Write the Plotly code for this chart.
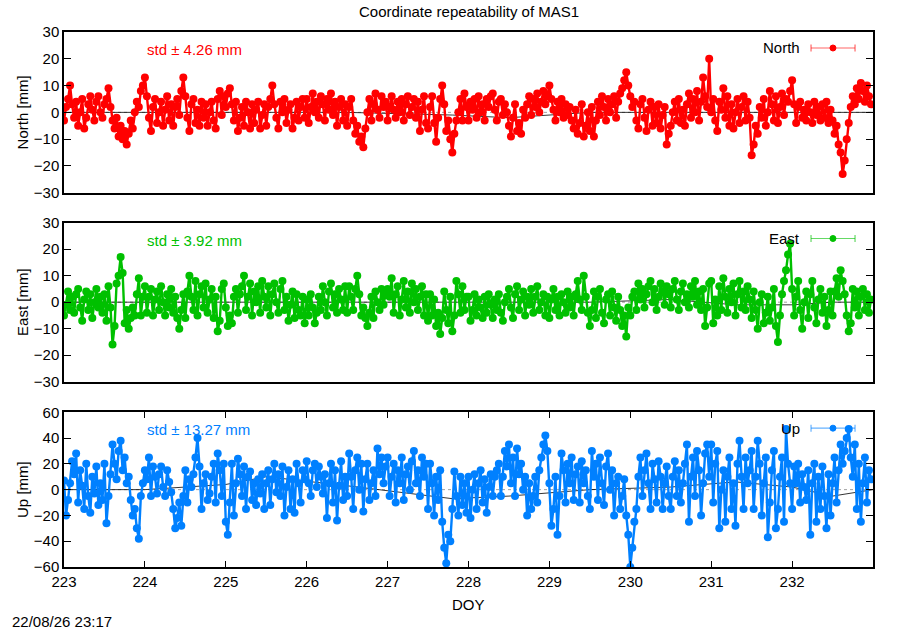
"""Coordinate repeatability of MAS1 - North / East / Up residuals against DOY.

Three stacked gnuplot-looking panels, one per component.
"""
from plotly.graph_objs import Scatter, Figure

NORTH_COLOUR = 'rgb(255, 0, 0)'
EAST_COLOUR = 'rgb(0, 192, 0)'
UP_COLOUR = 'rgb(0, 128, 255)'
REF_COLOUR = 'rgb(0, 0, 0)'
ZERO_COLOUR = 'rgb(160, 160, 160)'
FONT = 'Liberation Sans, Arial, sans-serif'

# epochs of the solutions (every 0.025 day)
DOY = [round(223 + 0.025 * i, 3) for i in range(400)]

# one row = half a day (20 epochs)
NORTH = [
    -3, 2, 5, 10, 3, -2, 4, -5, 0, 5, -6, -2, 3, 6, 1, -3, 4, 6, 0, -2,
    3, 5, 9, 2, -3, -6, -2, -9, -5, -10, -7, -12, -8, -3, -6, 0, 4, 2, 8, 10,
    13, 6, -2, -7, 2, 5, -4, 0, 4, -5, 1, 6, -3, 3, -5, 2, 5, -1, 8, 13,
    6, -2, -7, 3, 5, -4, 1, -5, 4, -2, 3, -5, 0, 4, -3, -6, 5, 8, -1, 6,
    2, 7, 9, 3, -3, 4, -7, -2, 2, -5, 4, 0, -6, 3, -4, 1, 4, -6, -1, 3,
    -5, 2, 5, 10, 3, -2, -6, 4, 0, 5, -4, 1, 3, -6, -2, 4, -3, 2, 5, -2,
    5, -4, 2, 7, 0, 4, -2, 6, 3, -3, 5, 1, 7, -1, 4, -5, 2, 5, -3, 3,
    -5, 2, 5, -3, -8, -5, -11, -9, -13, -6, 0, 5, -3, 3, 7, 1, -2, 6, 2, 4,
    -3, 2, 6, 1, -2, 4, 0, 5, -3, 3, 6, -1, 2, 5, -2, 4, -7, 1, 6, -4,
    -6, 2, 6, -4, -11, -2, 5, 10, 3, -7, -3, -10, -15, -8, -3, 0, 5, -3, 7, 2,
    -3, 4, 1, 5, -2, 6, 0, 3, -3, 5, 2, 6, 7, 1, -3, 4, 5, -1, 3, 0,
    -5, -9, -2, 3, -7, -4, -8, 1, -2, 3, 6, -1, 5, 2, 7, 0, 4, 8, 3, 6,
    10, 5, 1, -3, 4, 0, 5, -2, 3, -1, 2, -3, -6, 1, -8, -4, 3, -9, -5, 0,
    -7, 2, -9, -3, 4, -1, 6, 2, -3, 5, 0, 3, 6, -2, 4, 7, 9, 12, 15, 10,
    6, 2, 4, -3, -6, 3, 5, -2, -7, 1, 4, -5, 2, -4, 3, -6, -1, 2, -12, -8,
    -5, 0, 4, -3, 5, -4, 1, -5, 3, 7, -2, 5, 0, 8, -3, 4, 13, 6, 2, 20,
    0, 5, -3, -7, 4, 1, 9, -2, 6, -5, 3, -6, 0, 5, -4, 2, 6, -3, 4, -2,
    -16, -12, -5, -8, 2, -2, 5, -5, 0, 8, 3, -3, 6, -4, 2, 7, -1, 5, 4, 8,
    12, 3, -4, 2, 4, -2, 1, -3, 3, 0, -4, 4, -1, 2, -3, 3, -2, 4, -4, 1,
    -3, -8, -5, -12, -15, -23, -18, -10, -4, 2, 6, 3, 9, 5, 11, 8, 4, 10, 6, 3,
]

EAST = [
    -5, -1, 4, -3, 2, -4, 3, 5, -2, -7, 1, 4, -3, 3, -6, 0, 5, -2, 2, -4,
    3, -7, 6, -2, -16, -9, 7, 10, 17, 11, -8, -3, -10, -6, -2, -5, 3, 9, -5, 2,
    6, -4, 2, 5, -5, 1, 4, -3, 6, 0, -5, 3, -2, 5, -4, 2, -6, -10, -3, 3,
    -6, 4, 10, 2, -3, 8, -5, 3, 6, -2, 7, -4, 1, 5, -6, 2, -11, -7, 5, 7,
    -2, -9, -5, -8, 2, 5, -4, 3, 6, 10, -3, 2, 7, -5, 4, 0, 6, -4, 8, 2,
    -2, 6, -5, 3, 7, 0, -4, 5, 8, -3, 2, -7, -1, 4, -6, 3, -3, -5, 2, -8,
    1, -5, 3, -2, -8, -4, 2, -3, 6, 0, -5, 4, 7, -2, 3, -4, 5, 1, -3, 6,
    -4, 6, 2, -3, 5, 10, 3, -5, -2, -6, -9, -4, 2, -6, 4, 0, -3, 5, -1, 3,
    5, 2, 9, -4, 3, 6, -5, 1, 8, -2, 4, -4, 7, 0, 5, -3, 2, 6, -5, 3,
    -7, 3, -5, 1, -9, -4, -12, -6, 4, -3, -8, 2, -11, -5, 8, 3, -4, 6, -3, 2,
    2, -7, -3, 3, -5, 1, -2, -6, 2, -4, 3, -1, -6, 1, -3, 3, -4, -7, 0, 2,
    5, -2, -6, 3, 6, -3, 1, 4, -5, 2, -1, 5, -4, 2, 6, -3, 0, 3, -5, 2,
    -6, 1, 5, -3, 2, -5, 3, 0, -4, 4, -2, 2, -5, 3, 8, 1, -3, 10, 2, -4,
    -9, -3, 4, -6, 2, 5, -4, -8, 1, 3, -5, 4, -2, -7, 2, -3, -9, -5, -13, -2,
    -5, 2, 4, -3, 7, 1, 5, -2, 3, 6, 8, 0, 5, -3, 2, 7, 4, -1, 6, 3,
    -2, 5, 8, 1, -3, 4, 7, 0, 3, -2, 6, 2, 8, -1, 4, -3, 5, -9, -2, 7,
    8, -8, 1, -5, 6, -3, 9, 2, -4, 5, 0, 7, -5, 3, 8, -2, 4, -3, 6, 1,
    -6, 4, -3, -10, 0, 3, -8, -4, 2, -7, -2, 5, -9, -15, -5, 3, 8, 12, 18, 22,
    5, -5, 2, 8, -3, -10, 0, 4, -6, 3, 8, -2, -8, 1, 5, -4, 2, -9, -3, 4,
    -5, 4, 9, 2, 12, 8, 3, -5, -11, -8, 5, -2, 4, -5, 2, 5, -3, 3, -4, 1,
]

UP = [
    7, -20, -8, 5, 22, 12, 28, -10, 15, 3, -15, 20, -5, -18, 10, -3, 18, -12, 5, -8,
    20, -26, -5, 12, 35, 20, 8, 30, 38, 15, 25, 5, 10, -8, -20, -15, -30, -38, -5, 5,
    15, 8, 25, -5, 18, 10, -3, 12, 18, 2, -5, 15, 6, -2, -15, -30, -22, -10, -28, -5,
    15, -10, 8, 2, 12, 25, 40, 18, -15, 5, 12, -8, -3, 10, 20, -10, 28, 15, -5, 20,
    -25, -35, -10, 20, -20, 5, 24, 12, -5, 18, -15, 10, 14, -8, 5, -12, 8, -3, 12, -15,
    5, 15, -12, 8, 20, -2, 12, -5, 18, -20, 2, 15, -15, 8, -18, 20, 5, -10, 15, 8,
    22, 5, -5, 15, 20, 2, 18, 10, -3, 12, -22, 5, 20, -10, 15, -24, 3, 22, -8, 10,
    -5, 28, 10, -15, 15, 25, 0, 20, -17, 8, 20, -8, 5, 15, -5, 32, 12, 25, 5, 18,
    25, -5, 10, 20, -10, 15, 5, 25, -8, 12, 18, 0, 22, 30, 5, 15, -5, 25, 10, 20,
    -15, 20, 5, -20, 10, -8, 15, -25, -45, -57, -35, -40, -15, 14, -5, -20, 10, -12, 5, -18,
    10, -22, 0, 12, -15, 5, 15, -10, 8, -18, 2, 12, -5, 10, 15, 20, -5, 10, 30, 18,
    35, 5, 25, -5, 32, 12, 20, 0, 10, -20, 5, -15, -5, 10, -10, 15, 25, 35, 42, 30,
    5, -28, -15, 10, -35, -5, 28, 15, -10, 20, 5, 25, -8, 12, 18, -10, 22, 5, 15, -5,
    -15, 30, 10, 20, -8, 25, 5, -12, 18, 28, 0, 15, -20, 5, 10, -15, -5, 8, -20, -35,
    -60, -45, -25, -15, 10, 25, -5, 15, 28, 5, -15, 20, 8, -10, 22, 10, -15, 5, 18, -5,
    -15, 10, 22, -5, 15, -10, 5, 20, 35, -25, 10, 25, -5, 30, 15, -20, 5, 28, 35, 10,
    35, -10, 20, 30, -30, 0, 15, -25, 10, 25, -15, 5, -28, 20, 38, 10, -15, 25, 5, 15,
    30, -15, 10, 38, 20, -20, 5, 25, -37, -10, 15, 30, -30, -15, 10, 25, -25, 47, 20, 5,
    -15, 18, 5, 20, -10, 12, 2, -8, 15, -35, 5, 20, -25, 10, -15, 18, -5, -30, 12, -20,
    5, 25, -10, 15, 35, 20, 30, 40, 47, 25, 10, 35, -15, 20, -25, 5, 25, -10, 15, 8,
]

# reference (daily) curve drawn thin in black behind the residuals
REF_DOY = [223.0, 224.0, 225.0, 225.5, 226.5, 227.8, 228.5, 229.5, 230.5, 231.3, 232.0, 232.5, 233.0]
REF_NORTH = [0, 0, 0, 0, 0, -1, -2, 0, 0, 0, 0, 0, 0]
REF_EAST = [0, 0, 0, 0, 0, 0, 0, 0, 1, -1, -1, 0, 0]
REF_UP = [0, 0, 4, 10, 3, -7, -5, 0, 2, 6, 2, -5, 0]

STD_TEXT = ['std \u00b1 4.26 mm', 'std \u00b1 3.92 mm', 'std \u00b1 13.27 mm']
NAMES = ['North', 'East', 'Up']
YLABELS = ['North [mm]', 'East [mm]', 'Up [mm]']
YRANGES = [(-30, 30), (-30, 30), (-60, 60)]
YDTICK = [10, 10, 20]
COLOURS = [NORTH_COLOUR, EAST_COLOUR, UP_COLOUR]

# panel domains (paper) and y of the key / std label rows
DOMAINS = [(0.6996, 1.0), (0.3464, 0.6436), (0.0, 0.2892)]
KEY_Y = [0.9701, 0.6140, 0.2595]

fig = Figure()

series = [NORTH, EAST, UP]
refs = [REF_NORTH, REF_EAST, REF_UP]
for i in range(3):
    xa = 'x' if i == 0 else f'x{i + 1}'
    ya = 'y' if i == 0 else f'y{i + 1}'
    fig.add_trace(Scatter(x=REF_DOY, y=refs[i], mode='lines', xaxis=xa, yaxis=ya,
                          line={'color': REF_COLOUR, 'width': 0.8}, hoverinfo='skip',
                          showlegend=False))
    # thick joins so the dense epochs read as one band, as in the original
    fig.add_trace(Scatter(x=DOY, y=series[i], mode='lines+markers', name=NAMES[i],
                          xaxis=xa, yaxis=ya, showlegend=False,
                          line={'color': COLOURS[i], 'width': 2.4},
                          marker={'color': COLOURS[i], 'size': 8, 'symbol': 'circle'}))

axis_common = {'range': [223, 233], 'showline': True, 'linecolor': 'black', 'linewidth': 1.5,
               'mirror': True, 'showgrid': False, 'zeroline': False}
layout = {}
for i in range(3):
    xkey = 'xaxis' if i == 0 else f'xaxis{i + 1}'
    ykey = 'yaxis' if i == 0 else f'yaxis{i + 1}'
    ya = 'y' if i == 0 else f'y{i + 1}'
    xa = 'x' if i == 0 else f'x{i + 1}'
    xaxis = dict(axis_common, anchor=ya)
    if i < 2:
        xaxis.update(showticklabels=False, ticks='')
    else:
        xaxis.update(ticks='inside', ticklen=6, tickcolor='black', mirror='ticks',
                     tickmode='array', tickvals=list(range(223, 233)),
                     tickfont={'size': 15, 'color': 'black', 'family': FONT})
    layout[xkey] = xaxis
    lo, hi = YRANGES[i]
    layout[ykey] = {'domain': list(DOMAINS[i]), 'anchor': xa, 'range': [lo, hi],
                    'dtick': YDTICK[i], 'tick0': lo, 'ticks': 'inside', 'ticklen': 7,
                    'tickcolor': 'black', 'showline': True, 'linecolor': 'black',
                    'linewidth': 1.5, 'mirror': 'ticks', 'showgrid': False, 'zeroline': False,
                    'tickfont': {'size': 15, 'color': 'black', 'family': FONT},
                    'title': {'text': YLABELS[i], 'standoff': 2,
                              'font': {'size': 15, 'color': 'black', 'family': FONT}}}

fig.update_layout(**layout)

shapes = []
annotations = []
for i in range(3):
    xa = 'x' if i == 0 else f'x{i + 1}'
    ya = 'y' if i == 0 else f'y{i + 1}'
    # dotted zero axis
    shapes.append({'type': 'line', 'xref': xa, 'yref': ya, 'x0': 223, 'x1': 233, 'y0': 0, 'y1': 0,
                   'line': {'color': ZERO_COLOUR, 'width': 1, 'dash': 'dot'}, 'layer': 'below'})
    ky = KEY_Y[i]
    cap = 0.0065
    key_line = {'color': COLOURS[i], 'width': 1.2}
    shapes.append({'type': 'line', 'xref': 'paper', 'yref': 'paper', 'x0': 0.9234, 'x1': 0.9778,
                   'y0': ky, 'y1': ky, 'line': key_line, 'opacity': 0.6})
    for cx in (0.9234, 0.9778):
        shapes.append({'type': 'line', 'xref': 'paper', 'yref': 'paper', 'x0': cx, 'x1': cx,
                       'y0': ky - cap, 'y1': ky + cap, 'line': key_line, 'opacity': 0.6})
    shapes.append({'type': 'circle', 'xref': 'paper', 'yref': 'paper', 'x0': 0.9505 - 0.0037,
                   'x1': 0.9505 + 0.0037, 'y0': ky - 0.0056, 'y1': ky + 0.0056,
                   'fillcolor': COLOURS[i], 'line': {'color': COLOURS[i], 'width': 1}})
    annotations.append({'text': NAMES[i], 'xref': 'paper', 'yref': 'paper', 'x': 0.9122, 'y': ky,
                        'xanchor': 'right', 'yanchor': 'middle', 'showarrow': False,
                        'font': {'size': 15, 'color': 'black', 'family': FONT}})
    annotations.append({'text': STD_TEXT[i], 'xref': 'paper', 'yref': 'paper', 'x': 0.100,
                        'y': ky - 0.003, 'xanchor': 'left', 'yanchor': 'middle', 'showarrow': False,
                        'font': {'size': 15, 'color': COLOURS[i], 'family': FONT}})

annotations.append({'text': 'Coordinate repeatability of MAS1', 'xref': 'paper', 'yref': 'paper',
                    'x': 0.5, 'y': 1.0383, 'xanchor': 'center', 'yanchor': 'middle',
                    'showarrow': False, 'font': {'size': 15, 'color': 'black', 'family': FONT}})
annotations.append({'text': 'DOY', 'xref': 'paper', 'yref': 'paper', 'x': 0.5, 'y': -0.071,
                    'xanchor': 'center', 'yanchor': 'middle', 'showarrow': False,
                    'font': {'size': 15, 'color': 'black', 'family': FONT}})
annotations.append({'text': '22/08/26 23:17', 'xref': 'paper', 'yref': 'paper', 'x': -0.0667,
                    'y': -0.1028, 'xanchor': 'left', 'yanchor': 'middle', 'showarrow': False,
                    'font': {'size': 15, 'color': 'black', 'family': FONT}})

fig.update_layout(
    width=900, height=630,
    margin={'l': 64, 'r': 27, 't': 32, 'b': 63},
    paper_bgcolor='white', plot_bgcolor='white',
    shapes=shapes, annotations=annotations, showlegend=False,
)

# page body margin would shift the fixed-size figure by 8 px
fig.write_html("out.html", config={'displayModeBar': False},
               post_script="document.body.style.margin = '0';")
